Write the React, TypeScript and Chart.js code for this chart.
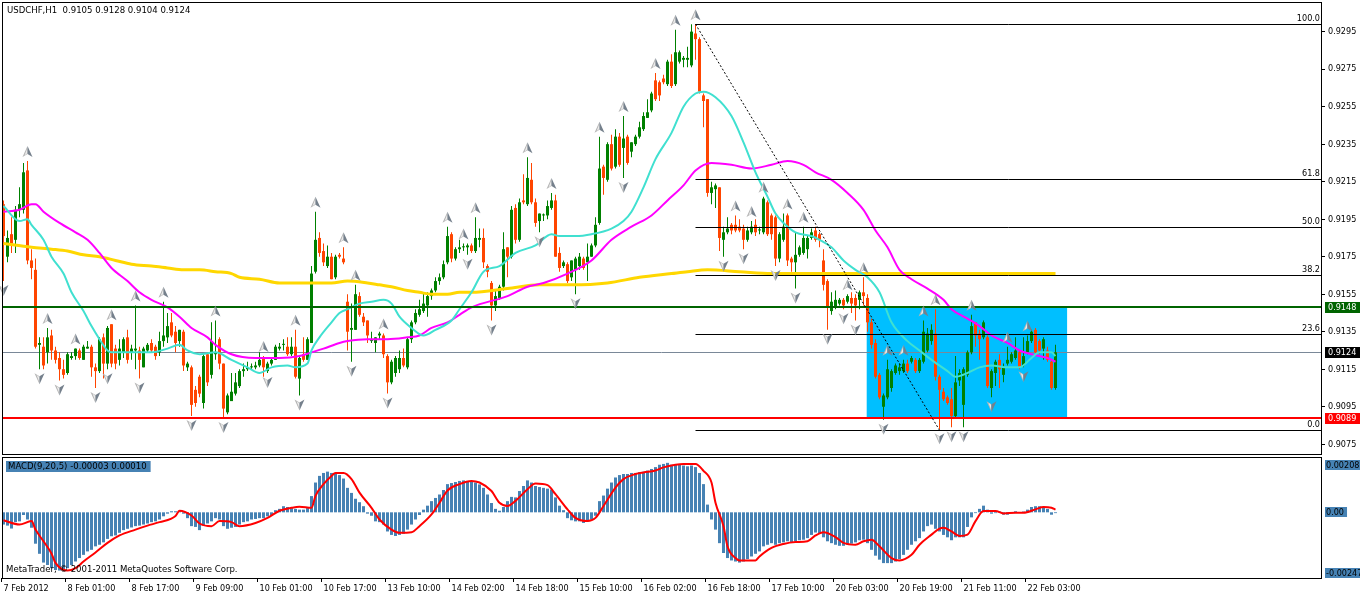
import React, { useEffect, useRef } from "react";
import { Chart, registerables } from "chart.js";

Chart.register(...registerables);

const FONT_FAMILY = '"DejaVu Sans Condensed", "DejaVu Sans", sans-serif';

// ---- Candles (prices in 1/10000 CHF) ----
const opens = [
  9203,9175,9187,9184,9200,9200,9221,9173,9168,9128,
  9127,9124,9133,9125,9121,9115,9113,9121,9122,9125,
  9120,9126,9127,9116,9114,9132,9118,9139,9126,9120,
  9124,9132,9124,9125,9125,9116,9125,9129,9127,9124,
  9130,9132,9140,9135,9130,9135,9116,9116,9104,9111,
  9097,9123,9112,9123,9131,9118,9092,9098,9102,9106,
  9114,9115,9116,9116,9117,9121,9114,9118,9120,9126,
  9128,9127,9123,9127,9110,9123,9120,9129,9167,9185,
  9178,9170,9175,9164,9176,9174,9151,9136,9136,9154,
  9143,9141,9130,9129,9133,9133,9122,9108,9113,9115,
  9121,9116,9131,9140,9144,9146,9149,9154,9157,9162,
  9164,9172,9187,9174,9179,9180,9180,9181,9178,9184,
  9185,9170,9161,9149,9153,9159,9180,9175,9201,9184,
  9205,9203,9216,9204,9194,9197,9197,9201,9205,9177,
  9170,9171,9164,9168,9170,9174,9172,9175,9181,9193,
  9223,9216,9235,9223,9239,9233,9239,9231,9235,9239,
  9243,9249,9253,9269,9268,9270,9267,9279,9267,9279,
  9280,9280,9277,9294,9291,9261,9259,9209,9211,9212,
  9184,9188,9192,9192,9191,9190,9184,9188,9192,9189,
  9188,9204,9197,9196,9174,9184,9197,9174,9172,9176,
  9177,9179,9185,9189,9187,9173,9162,9146,9148,9150,
  9152,9151,9153,9153,9152,9156,9153,9140,9129,9112,
  9095,9100,9105,9113,9114,9114,9118,9119,9120,9114,
  9119,9125,9130,9134,9111,9103,9100,9099,9090,9109,
  9096,9112,9124,9140,9134,9132,9132,9105,9113,9120,
  9112,9118,9119,9121,9124,9117,9124,9130,9136,9130,
  9126,9125,9119,9105,
];
const highs = [
  9205,9189,9196,9202,9212,9225,9226,9179,9174,9132,
  9132,9137,9136,9127,9124,9120,9124,9124,9126,9126,
  9128,9130,9128,9118,9132,9134,9138,9139,9128,9131,
  9132,9136,9128,9149,9127,9127,9129,9131,9128,9135,
  9151,9145,9145,9138,9136,9136,9119,9117,9106,9112,
  9123,9124,9140,9141,9132,9118,9102,9113,9113,9115,
  9118,9119,9118,9119,9124,9122,9119,9121,9128,9129,
  9131,9132,9132,9136,9122,9132,9132,9170,9199,9188,
  9182,9181,9177,9176,9177,9180,9155,9150,9160,9156,
  9145,9141,9135,9132,9135,9134,9123,9120,9122,9125,
  9126,9132,9141,9147,9152,9156,9156,9158,9164,9166,
  9173,9191,9188,9180,9184,9182,9182,9182,9196,9190,
  9190,9171,9162,9157,9160,9188,9180,9202,9203,9206,
  9219,9228,9225,9206,9198,9198,9205,9209,9208,9180,
  9173,9172,9173,9175,9177,9175,9182,9182,9196,9239,
  9224,9236,9240,9243,9241,9250,9240,9236,9240,9247,
  9252,9259,9263,9273,9269,9272,9280,9283,9296,9285,
  9282,9287,9299,9299,9292,9262,9259,9215,9214,9212,
  9191,9196,9193,9197,9195,9192,9191,9194,9195,9191,
  9207,9205,9198,9197,9188,9198,9198,9175,9188,9181,
  9191,9186,9190,9191,9188,9179,9163,9156,9157,9153,
  9153,9155,9156,9155,9157,9164,9155,9142,9131,9113,
  9102,9120,9115,9118,9118,9120,9120,9122,9121,9121,
  9141,9137,9139,9147,9112,9105,9101,9105,9122,9115,
  9116,9125,9144,9140,9136,9141,9133,9115,9120,9123,
  9118,9127,9124,9132,9125,9132,9133,9136,9137,9131,
  9132,9127,9120,9128,
];
const lows = [
  9162,9172,9177,9177,9196,9198,9171,9163,9126,9115,
  9115,9118,9120,9118,9109,9110,9112,9120,9120,9120,
  9120,9126,9111,9105,9113,9110,9115,9116,9115,9117,
  9121,9118,9120,9115,9110,9116,9124,9124,9120,9122,
  9127,9129,9132,9124,9127,9114,9114,9090,9095,9100,
  9094,9106,9110,9120,9115,9089,9091,9098,9101,9105,
  9111,9114,9115,9115,9116,9111,9113,9117,9120,9125,
  9125,9122,9122,9110,9101,9119,9120,9129,9166,9175,
  9170,9169,9163,9163,9174,9171,9125,9119,9136,9143,
  9138,9129,9129,9124,9131,9121,9102,9107,9111,9113,
  9116,9115,9129,9139,9143,9145,9143,9152,9156,9160,
  9163,9171,9172,9173,9177,9178,9176,9177,9177,9180,
  9169,9164,9141,9146,9152,9157,9164,9174,9182,9183,
  9203,9202,9203,9191,9188,9194,9195,9200,9175,9167,
  9169,9161,9162,9155,9168,9168,9162,9175,9180,9192,
  9208,9215,9221,9222,9223,9217,9224,9228,9234,9238,
  9242,9249,9252,9258,9258,9267,9266,9265,9266,9278,
  9276,9276,9276,9280,9262,9244,9207,9203,9201,9178,
  9175,9187,9187,9188,9188,9179,9183,9187,9186,9187,
  9187,9186,9184,9170,9172,9183,9170,9167,9158,9175,
  9176,9174,9184,9183,9180,9157,9136,9144,9147,9149,
  9147,9150,9145,9141,9147,9149,9135,9126,9110,9099,
  9088,9099,9103,9112,9112,9113,9113,9118,9113,9113,
  9118,9124,9128,9109,9083,9098,9096,9084,9089,9106,
  9084,9111,9123,9127,9120,9131,9105,9100,9106,9105,
  9108,9117,9118,9120,9115,9116,9123,9129,9123,9123,
  9120,9119,9104,9104,
];
const closes = [
  9186,9185,9182,9200,9203,9220,9173,9169,9127,9129,
  9117,9132,9125,9120,9115,9112,9123,9122,9126,9121,
  9127,9127,9116,9114,9131,9118,9137,9118,9118,9126,
  9131,9120,9126,9126,9120,9126,9128,9125,9122,9130,
  9133,9138,9133,9129,9136,9117,9118,9096,9097,9102,
  9122,9108,9130,9124,9118,9094,9101,9103,9108,9114,
  9115,9116,9116,9117,9120,9116,9118,9120,9127,9127,
  9128,9123,9127,9111,9121,9120,9131,9166,9184,9177,
  9172,9175,9163,9175,9175,9172,9135,9137,9155,9144,
  9140,9133,9130,9132,9134,9123,9108,9119,9121,9121,
  9117,9131,9140,9145,9147,9150,9154,9157,9162,9164,
  9171,9186,9174,9179,9180,9180,9181,9178,9185,9185,
  9172,9167,9149,9154,9159,9179,9175,9200,9184,9204,
  9204,9217,9204,9193,9198,9197,9202,9205,9175,9169,
  9172,9162,9173,9174,9175,9169,9175,9181,9192,9222,
  9217,9235,9222,9239,9224,9238,9225,9236,9239,9244,
  9250,9252,9262,9259,9261,9268,9279,9266,9284,9284,
  9281,9281,9295,9291,9263,9258,9209,9212,9213,9185,
  9188,9190,9189,9189,9189,9184,9189,9191,9188,9189,
  9206,9187,9187,9174,9187,9191,9173,9172,9176,9180,
  9185,9185,9188,9184,9184,9160,9148,9151,9152,9152,
  9149,9154,9150,9149,9156,9154,9140,9128,9111,9100,
  9101,9115,9114,9117,9116,9118,9114,9121,9114,9120,
  9135,9134,9136,9111,9104,9099,9097,9090,9108,9113,
  9115,9124,9138,9133,9131,9140,9106,9114,9119,9115,
  9116,9120,9123,9125,9116,9122,9130,9135,9124,9125,
  9131,9120,9105,9124,
];

// ---- Fractals (bar indices) ----
const fractalUpBars = [6,11,18,27,33,40,53,65,73,78,85,88,95,111,115,118,131,137,149,155,163,168,173,183,187,190,196,200,211,215,221,225,230,233,242,251,256];
const fractalDownBars = [0,9,14,23,26,34,47,55,66,74,87,96,116,122,134,143,155,180,185,193,198,206,210,213,220,234,237,240,247,255];

// ---- Moving averages (sampled bars, prices in 1/10000) ----
const maFastBars = [0,4,6,7,10,12,15,17,20,22,24,26,27,32,37,41,44,46,49,53,57,61,64,67,71,73,76,77,79,82,84,86,89,92,95,97,99,102,105,108,112,114,117,120,124,128,133,137,139,143,147,152,155,157,160,163,167,170,173,175,178,182,185,188,191,193,195,198,202,204,207,210,213,216,219,222,226,229,232,236,238,241,244,247,251,254,257,259,262,263];
const maFastValues = [9202,9194,9195,9192,9184,9175,9166,9156,9146,9138,9131,9125,9124,9124,9124,9126,9128,9125,9123,9124,9120,9116,9113,9116,9117,9116,9118,9125,9132,9140,9145,9147,9150,9151,9152,9150,9143,9137,9133,9136,9141,9147,9156,9167,9170,9177,9181,9187,9186,9186,9187,9190,9194,9199,9212,9227,9241,9255,9262,9263,9260,9250,9236,9220,9207,9198,9193,9188,9186,9184,9180,9173,9168,9164,9156,9140,9130,9125,9120,9114,9111,9113,9116,9117,9116,9116,9121,9124,9124,9122];

const maMidBars = [0,4,7,8,10,14,18,21,24,27,31,34,37,41,44,47,51,53,57,63,69,74,77,80,84,86,91,96,101,104,107,111,114,117,126,131,135,141,147,152,157,162,166,170,173,177,182,187,192,196,200,203,207,211,215,218,221,224,227,231,235,237,241,244,247,251,254,257,261,263];
const maMidValues = [9199,9200,9203,9203,9199,9193,9188,9184,9177,9169,9162,9156,9152,9148,9143,9137,9132,9128,9123,9121,9121,9122,9124,9126,9129,9130,9131,9131,9132,9133,9137,9140,9144,9148,9154,9159,9161,9166,9173,9184,9191,9197,9205,9213,9221,9225,9224,9222,9224,9226,9224,9220,9216,9209,9200,9189,9180,9168,9163,9158,9152,9147,9142,9138,9133,9129,9125,9123,9121,9119];

const maSlowBars = [0,7,12,16,20,24,28,32,37,41,45,49,53,57,59,64,69,74,77,82,86,91,94,97,101,104,107,111,114,117,126,134,142,151,159,167,171,176,184,192,201,212,223,263];
const maSlowValues = [9182,9180,9179,9178,9176,9175,9173,9171,9170,9169,9168,9168,9167,9166,9164,9163,9161,9161,9161,9161,9162,9161,9160,9159,9157,9156,9155,9155,9156,9156,9158,9160,9160,9161,9164,9166,9167,9168,9167,9166,9166,9166,9166,9166];

// ---- MACD (values in 0.00001) ----
const macdHistogram = [
  -46,-50,-61,-37,-34,-10,-27,-58,-118,-156,
  -189,-198,-210,-217,-219,-219,-210,-198,-185,-172,
  -160,-147,-141,-128,-122,-113,-100,-90,-87,-77,
  -67,-62,-57,-52,-50,-46,-42,-37,-34,-27,
  -15,-5,4,4,6,-5,-22,-52,-55,-67,
  -50,-42,-34,-22,-27,-52,-62,-58,-55,-46,
  -37,-34,-27,-25,-22,-22,-15,-10,8,13,
  23,20,16,13,10,10,16,61,112,137,
  148,153,148,148,140,127,92,73,51,38,
  23,-5,-13,-34,-37,-46,-72,-85,-89,-85,
  -81,-65,-46,-27,-10,10,25,42,54,67,
  84,106,
  110,114,118,120,118,114,112,105,92,67,
  35,13,6,20,42,58,56,80,99,120,
  112,99,95,92,89,86,56,25,8,-22,
  -30,-34,-34,-40,-34,-27,-13,42,63,89,
  112,131,140,144,144,148,148,151,153,157,
  163,170,179,182,186,179,179,179,176,173,
  176,170,148,106,29,-27,-65,-116,-153,-172,
  -181,-185,-189,-185,-176,-166,-156,-147,-128,-122,
  -116,-122,-116,-113,-109,-113,-109,-105,-103,-97,
  -85,-76,-78,-94,-109,-116,-122,-126,-126,-122,
  -118,-113,-105,-103,-116,-141,-163,-178,-191,-191,
  -191,-185,-176,
  -160,-141,-122,-109,-97,-72,-52,-46,-62,-72,
  -85,-94,-105,-94,-94,-94,-55,-19,-3,13,
  25,10,-5,-3,3,-9,-9,-3,4,0,
  3,10,20,23,23,20,13,-9,-3,
];
const macdSignalBars = [0,4,7,8,10,12,13,16,18,20,23,26,29,33,36,39,43,44,47,49,52,54,57,59,63,66,69,72,74,77,78,80,82,83,85,87,89,92,94,97,99,102,104,107,109,111,114,117,119,122,124,126,128,131,133,136,138,141,143,146,148,150,153,155,158,160,163,165,168,170,173,175,177,178,180,181,183,184,188,189,192,195,198,201,203,205,208,210,213,215,217,219,222,224,227,229,232,234,235,237,239,241,243,245,248,250,253,255,258,260,262,263];
const macdSignalValues = [-30,-46,-33,-65,-109,-155,-190,-219,-210,-185,-151,-115,-87,-65,-50,-37,-14,6,-12,-42,-52,-33,-37,-52,-40,-21,6,17,21,17,62,106,137,148,148,125,74,17,-27,-65,-77,-75,-52,-8,36,82,106,118,112,80,36,24,43,87,108,102,68,11,-21,-33,-21,24,93,125,144,150,157,169,179,182,182,156,112,36,-52,-128,-172,-181,-181,-166,-134,-119,-112,-109,-87,-75,-93,-115,-122,-109,-103,-128,-172,-181,-160,-122,-84,-61,-58,-72,-89,-84,-33,5,5,-4,-2,-2,11,20,17,10];

// ---- Axis ticks and annotations ----
const timeTickBars = [0,16,32,48,64,80,96,112,128,144,160,176,192,208,224,240,256];
const timeTickLabels = ["7 Feb 2012","8 Feb 01:00","8 Feb 17:00","9 Feb 09:00","10 Feb 01:00","10 Feb 17:00","13 Feb 10:00","14 Feb 02:00","14 Feb 18:00","15 Feb 10:00","16 Feb 02:00","16 Feb 18:00","17 Feb 10:00","20 Feb 03:00","20 Feb 19:00","21 Feb 11:00","22 Feb 03:00"];
const priceTicks = [0.9075,0.9095,0.9115,0.9135,0.9155,0.9175,0.9195,0.9215,0.9235,0.9255,0.9275,0.9295];

const resistanceLevel = 0.9148;
const supportLevel = 0.9089;
const bidLevel = 0.9124;
const fibHigh = 0.9299;
const fibLow = 0.90825;
const fibStartBar = 173;
const fibEndBar = 234;
const fibLevels = [0, 23.6, 38.2, 50.0, 61.8, 100.0];
const boxStartBar = 215.8;
const boxEndBar = 265.9;
const titleText = "USDCHF,H1  0.9105 0.9128 0.9104 0.9124";
const macdTitle = "MACD(9,20,5) -0.00003 0.00010";
const copyrightText = "MetaTrader, \u00A9 2001-2011 MetaQuotes Software Corp.";
const macdMax = 0.00208;
const macdMin = -0.00247;

const BULL = "#008000";
const BEAR = "#FF4500";
const font = (s: number) => `${s}px ${FONT_FAMILY}`;

const X_MIN = -0.375;
const X_MAX = 329.375;

function drawFractal(ctx: CanvasRenderingContext2D, cx: number, cy: number, up: boolean) {
  const s = up ? 1 : -1;
  ctx.beginPath();
  ctx.moveTo(cx, cy - 6 * s);
  ctx.lineTo(cx - 5, cy + 5 * s);
  ctx.lineTo(cx, cy + 2 * s);
  ctx.closePath();
  ctx.fillStyle = "#b4b4b4";
  ctx.fill();
  ctx.beginPath();
  ctx.moveTo(cx, cy - 6 * s);
  ctx.lineTo(cx + 5, cy + 5 * s);
  ctx.lineTo(cx, cy + 2 * s);
  ctx.closePath();
  ctx.fillStyle = "#75808c";
  ctx.fill();
  ctx.beginPath();
  ctx.moveTo(cx - 0.5, cy - 3 * s);
  ctx.lineTo(cx - 3, cy + 3.5 * s);
  ctx.lineTo(cx - 0.5, cy + 1.5 * s);
  ctx.closePath();
  ctx.fillStyle = "#ececec";
  ctx.fill();
}

const mainOverlay = {
  id: "mainOverlay",
  beforeDatasetsDraw(chart: any) {
    const { ctx, chartArea: a, scales } = chart;
    const x = scales.x, y = scales.y;
    ctx.save();
    const x0 = x.getPixelForValue(boxStartBar);
    const x1 = x.getPixelForValue(boxEndBar);
    const y0 = y.getPixelForValue(resistanceLevel);
    const y1 = y.getPixelForValue(supportLevel);
    ctx.fillStyle = "#00BFFF";
    ctx.fillRect(x0, y0, x1 - x0, y1 - y0);
    const yb = Math.round(y.getPixelForValue(bidLevel)) + 0.5;
    ctx.strokeStyle = "#7a8898";
    ctx.lineWidth = 1;
    ctx.beginPath();
    ctx.moveTo(a.left, yb);
    ctx.lineTo(a.right, yb);
    ctx.stroke();
    ctx.restore();
  },
  afterDatasetsDraw(chart: any) {
    const { ctx, chartArea: a, scales } = chart;
    const x = scales.x, y = scales.y;
    ctx.save();
    const hl = (v: number, color: string) => {
      const yy = Math.round(y.getPixelForValue(v));
      ctx.fillStyle = color;
      ctx.fillRect(a.left, yy - 1, a.right - a.left, 2);
    };
    hl(resistanceLevel, "#006400");
    hl(supportLevel, "#FF0000");
    const fx = x.getPixelForValue(fibStartBar);
    ctx.strokeStyle = "#000";
    ctx.lineWidth = 1;
    ctx.font = font(9);
    ctx.textAlign = "right";
    ctx.textBaseline = "bottom";
    ctx.fillStyle = "#000";
    fibLevels.forEach((lv) => {
      const price = fibLow + (fibHigh - fibLow) * lv / 100;
      const yy = Math.round(y.getPixelForValue(price)) + 0.5;
      ctx.beginPath();
      ctx.moveTo(fx, yy);
      ctx.lineTo(a.right, yy);
      ctx.stroke();
      ctx.fillText(lv.toFixed(1), a.right - 1, yy - 1);
    });
    ctx.setLineDash([2, 2]);
    ctx.beginPath();
    ctx.moveTo(fx, y.getPixelForValue(fibHigh));
    ctx.lineTo(x.getPixelForValue(fibEndBar), y.getPixelForValue(fibLow));
    ctx.stroke();
    ctx.setLineDash([]);
    fractalUpBars.forEach((b) => {
      drawFractal(ctx, x.getPixelForValue(b), y.getPixelForValue(highs[b] / 10000) - 9, true);
    });
    fractalDownBars.forEach((b) => {
      drawFractal(ctx, x.getPixelForValue(b), y.getPixelForValue(lows[b] / 10000) + 9, false);
    });
    ctx.strokeStyle = "#000";
    ctx.lineWidth = 1;
    ctx.strokeRect(a.left + 0.5, a.top + 0.5, a.right - a.left, a.bottom - a.top);
    ctx.fillStyle = "#000";
    ctx.font = font(9.5);
    ctx.textAlign = "left";
    ctx.textBaseline = "middle";
    ctx.fillText(titleText, a.left + 5, a.top + 9);
    ctx.restore();
  },
  afterDraw(chart: any) {
    const { ctx, chartArea: a, scales } = chart;
    const y = scales.y;
    ctx.save();
    ctx.font = font(9);
    ctx.textAlign = "left";
    ctx.textBaseline = "middle";
    const box = (v: number, bg: string) => {
      const yy = Math.round(y.getPixelForValue(v));
      ctx.fillStyle = bg;
      ctx.fillRect(a.right + 4, yy - 5, 36, 11);
      ctx.fillStyle = "#fff";
      ctx.fillText(v.toFixed(4), a.right + 7, yy + 0.5);
    };
    box(resistanceLevel, "#006400");
    box(bidLevel, "#000000");
    box(supportLevel, "#FF0000");
    ctx.restore();
  },
};

const macdOverlay = {
  id: "macdOverlay",
  afterDatasetsDraw(chart: any) {
    const { ctx, chartArea: a } = chart;
    ctx.save();
    ctx.strokeStyle = "#000";
    ctx.lineWidth = 1;
    ctx.strokeRect(a.left + 0.5, a.top + 0.5, a.right - a.left, a.bottom - a.top);
    ctx.font = font(9.5);
    ctx.textAlign = "left";
    ctx.textBaseline = "middle";
    const w = ctx.measureText(macdTitle).width;
    ctx.fillStyle = "#4682B4";
    ctx.fillRect(a.left + 4, a.top + 4, w + 6, 11);
    ctx.fillStyle = "#000";
    ctx.fillText(macdTitle, a.left + 6, a.top + 10);
    ctx.fillText(copyrightText, a.left + 4, a.bottom - 8);
    ctx.restore();
  },
  afterDraw(chart: any) {
    const { ctx, chartArea: a, scales } = chart;
    const y = scales.y;
    ctx.save();
    ctx.font = font(9);
    ctx.textAlign = "left";
    ctx.textBaseline = "middle";
    const box = (text: string, top: number) => {
      const w = ctx.measureText(text).width;
      ctx.fillStyle = "#4682B4";
      ctx.fillRect(a.right + 4, top, w + 4, 10);
      ctx.fillStyle = "#000";
      ctx.fillText(text, a.right + 5, top + 5.5);
    };
    box(macdMax.toFixed(5), a.top + 3);
    box("0.00", Math.round(y.getPixelForValue(0)) - 5);
    box(macdMin.toFixed(5), a.bottom - 10);
    ctx.restore();
  },
};

function mainConfig(): any {
  const idx = closes.map((_, i) => i);
  const colors = closes.map((c, i) => (c >= opens[i] ? BULL : BEAR));
  const toLine = (bars: number[], vals: number[]) => bars.map((b, i) => ({ x: b, y: vals[i] / 10000 }));
  return {
    type: "bar",
    data: {
      datasets: [
        {
          type: "line", data: toLine(maFastBars, maFastValues), borderColor: "#40E0D0", borderWidth: 2,
          pointRadius: 0, cubicInterpolationMode: "monotone", order: 1,
        },
        {
          type: "line", data: toLine(maMidBars, maMidValues), borderColor: "#FF00FF", borderWidth: 2,
          pointRadius: 0, cubicInterpolationMode: "monotone", order: 2,
        },
        {
          type: "line", data: toLine(maSlowBars, maSlowValues), borderColor: "#FFD700", borderWidth: 3,
          pointRadius: 0, cubicInterpolationMode: "monotone", order: 3,
        },
        {
          type: "bar", data: idx.map((i) => ({ x: i, y: [opens[i] / 10000, closes[i] / 10000] })),
          backgroundColor: colors, barThickness: 3, minBarLength: 1, grouped: false, inflateAmount: 0,
          borderWidth: 0, order: 9,
        },
        {
          type: "bar", data: idx.map((i) => ({ x: i, y: [lows[i] / 10000, highs[i] / 10000] })),
          backgroundColor: colors, barThickness: 1, grouped: false, inflateAmount: 0, borderWidth: 0, order: 10,
        },
      ],
    },
    options: {
      animation: false,
      responsive: false,
      devicePixelRatio: 1,
      events: [],
      layout: { padding: { left: 2, top: 2, right: 0, bottom: 1 } },
      plugins: { legend: { display: false }, tooltip: { enabled: false } },
      scales: {
        x: { type: "linear", min: X_MIN, max: X_MAX, offset: false, display: false, grid: { offset: false } },
        y: {
          type: "linear", position: "right", min: 0.90698, max: 0.93108, beginAtZero: false,
          afterBuildTicks: (s: any) => { s.ticks = priceTicks.map((v) => ({ value: v })); },
          afterFit: (s: any) => { s.width = 39; s.paddingTop = 0; s.paddingBottom = 0; },
          ticks: {
            autoSkip: false, padding: 3, color: "#000", font: { family: FONT_FAMILY, size: 9 },
            callback: (v: any) => Number(v).toFixed(4),
          },
          grid: { drawOnChartArea: false, drawTicks: true, tickLength: 4, color: "#000" },
          border: { display: false },
        },
      },
    },
    plugins: [mainOverlay],
  };
}

function macdConfig(): any {
  return {
    type: "bar",
    data: {
      datasets: [
        {
          type: "line",
          data: macdSignalBars.map((b, i) => ({ x: b, y: macdSignalValues[i] / 100000 })),
          borderColor: "#FF0000", borderWidth: 2, pointRadius: 0, cubicInterpolationMode: "monotone", order: 1,
        },
        {
          type: "bar",
          data: macdHistogram.map((v, i) => ({ x: i, y: v / 100000 })),
          backgroundColor: "#4682B4", barThickness: 3, inflateAmount: 0, borderWidth: 0, grouped: false, order: 5,
        },
      ],
    },
    options: {
      animation: false,
      responsive: false,
      devicePixelRatio: 1,
      events: [],
      layout: { padding: { left: 2, top: 2, right: 0, bottom: 0 } },
      plugins: { legend: { display: false }, tooltip: { enabled: false } },
      scales: {
        x: {
          type: "linear", min: X_MIN, max: X_MAX, offset: false, position: "bottom",
          afterBuildTicks: (s: any) => { s.ticks = timeTickBars.map((b) => ({ value: b - 0.5 })); },
          afterFit: (s: any) => { s.height = 18; s.paddingLeft = 0; s.paddingRight = 0; },
          ticks: {
            autoSkip: false, maxRotation: 0, minRotation: 0, align: "start", labelOffset: 2, padding: 1,
            color: "#000", font: { family: FONT_FAMILY, size: 9 },
            callback: (_v: any, i: number) => timeTickLabels[i],
          },
          grid: { drawOnChartArea: false, drawTicks: true, tickLength: 4, color: "#000", offset: false },
          border: { display: false },
        },
        y: {
          type: "linear", position: "right", min: macdMin, max: macdMax, beginAtZero: false,
          afterFit: (s: any) => { s.width = 39; s.paddingTop = 0; s.paddingBottom = 0; },
          ticks: { display: false },
          grid: { display: false },
          border: { display: false },
        },
      },
    },
    plugins: [macdOverlay],
  };
}

export default function App() {
  const mainRef = useRef<HTMLCanvasElement>(null);
  const macdRef = useRef<HTMLCanvasElement>(null);
  useEffect(() => {
    const main = new Chart(mainRef.current as HTMLCanvasElement, mainConfig());
    const macd = new Chart(macdRef.current as HTMLCanvasElement, macdConfig());
    return () => {
      main.destroy();
      macd.destroy();
    };
  }, []);
  return (
    <div style={{ position: "fixed", left: 0, top: 0, width: 1360, height: 596, background: "#fff", overflow: "hidden" }}>
      <canvas ref={mainRef} width={1360} height={455} style={{ position: "absolute", left: 0, top: 0, width: 1360, height: 455 }} />
      <canvas ref={macdRef} width={1360} height={141} style={{ position: "absolute", left: 0, top: 455, width: 1360, height: 141 }} />
    </div>
  );
}
